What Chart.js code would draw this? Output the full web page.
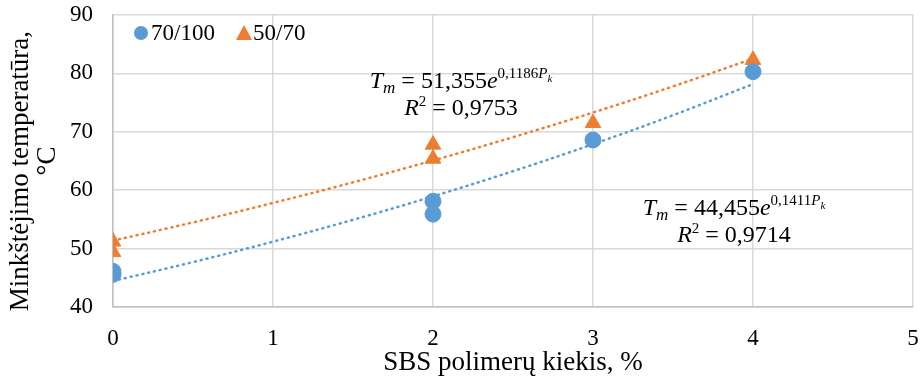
<!DOCTYPE html>
<html>
<head>
<meta charset="utf-8">
<script src="https://cdn.jsdelivr.net/npm/chart.js@4"></script>
<style>
  html, body { margin: 0; padding: 0; background: #fff; }
  #wrap { width: 923px; height: 380px; }
</style>
</head>
<body>
<div id="wrap"><canvas id="chart" width="923" height="380"></canvas></div>
<script>
// measured points
var x70_100 = [0, 0, 2, 2, 3, 4];
var y70_100 = [46.1, 45.6, 58.1, 55.9, 68.6, 80.3];
var x50_70 = [0, 0, 2, 2, 3, 4];
var y50_70 = [51.2, 49.4, 67.8, 65.4, 71.5, 82.3];

// trendlines
var trendX = [0, 0.5, 1, 1.5, 2, 2.5, 3, 3.5, 4];
var trendBlue = [44.46, 47.69, 51.19, 54.93, 58.95, 63.26, 67.88, 72.84, 78.17];
var trendOrange = [51.36, 54.49, 57.82, 61.35, 65.10, 69.08, 73.30, 77.78, 82.53];

var xTicks = [0, 1, 2, 3, 4, 5];
var yTicks = [40, 50, 60, 70, 80, 90];

var BLUE = '#5B9BD5';
var ORANGE = '#ED7D31';
var SERIF = '"Liberation Serif", "DejaVu Serif", serif';

function pts(xs, ys) {
    return xs.map(function (x, i) { return { x: x, y: ys[i] }; });
}

// legend and equations drawn inside the plot
var extras = {
    id: 'extras',
    afterDraw: function (chart) {
        var ctx = chart.ctx;
        var a = chart.chartArea;
        ctx.save();
        // legend
        var lx = a.left + 28, ly = a.top + 18;
        ctx.fillStyle = BLUE;
        ctx.beginPath();
        ctx.arc(lx, ly, 7, 0, Math.PI * 2);
        ctx.fill();
        ctx.fillStyle = '#000';
        ctx.font = '23px ' + SERIF;
        ctx.textBaseline = 'middle';
        ctx.textAlign = 'left';
        ctx.fillText('70/100', lx + 10, ly + 1);
        var tx = lx + 103;
        ctx.fillStyle = ORANGE;
        ctx.beginPath();
        ctx.moveTo(tx, ly - 8);
        ctx.lineTo(tx + 8, ly + 7);
        ctx.lineTo(tx - 8, ly + 7);
        ctx.closePath();
        ctx.fill();
        ctx.fillStyle = '#000';
        ctx.fillText('50/70', tx + 9, ly + 1);

        drawEq(ctx, 461, 88, '51,355', '0,1186', '0,9753');
        drawEq(ctx, 734, 215, '44,455', '0,1411', '0,9714');
        ctx.restore();
    }
};

function drawEq(ctx, cx, cy, a, b, r2) {
    var parts = [
        { t: 'T', f: 'italic 24px ' + SERIF, dy: 0 },
        { t: 'm', f: 'italic 17px ' + SERIF, dy: 5 },
        { t: ' = ' + a, f: '24px ' + SERIF, dy: 0 },
        { t: 'e', f: 'italic 24px ' + SERIF, dy: 0 },
        { t: b, f: '15px ' + SERIF, dy: -10 },
        { t: 'P', f: 'italic 15px ' + SERIF, dy: -10 },
        { t: 'k', f: 'italic 11px ' + SERIF, dy: -6 }
    ];
    var w = 0;
    parts.forEach(function (p) { ctx.font = p.f; p.w = ctx.measureText(p.t).width; w += p.w; });
    var x = cx - w / 2;
    ctx.fillStyle = '#000';
    ctx.textAlign = 'left';
    ctx.textBaseline = 'alphabetic';
    parts.forEach(function (p) {
        ctx.font = p.f;
        ctx.fillText(p.t, x, cy + p.dy);
        x += p.w;
    });
    var p2 = [
        { t: 'R', f: 'italic 24px ' + SERIF, dy: 0 },
        { t: '2', f: '15px ' + SERIF, dy: -9 },
        { t: ' = ' + r2, f: '24px ' + SERIF, dy: 0 }
    ];
    w = 0;
    p2.forEach(function (p) { ctx.font = p.f; p.w = ctx.measureText(p.t).width; w += p.w; });
    x = cx - w / 2;
    p2.forEach(function (p) {
        ctx.font = p.f;
        ctx.fillText(p.t, x, cy + 27 + p.dy);
        x += p.w;
    });
}

new Chart(document.getElementById('chart'), {
    type: 'scatter',
    data: {
        datasets: [
            {
                label: '70/100 trend',
                data: pts(trendX, trendBlue),
                showLine: true,
                borderColor: BLUE,
                borderWidth: 2.5,
                borderDash: [1, 5],
                borderCapStyle: 'round',
                tension: 0.4,
                pointRadius: 0
            },
            {
                label: '50/70 trend',
                data: pts(trendX, trendOrange),
                showLine: true,
                borderColor: ORANGE,
                borderWidth: 2.5,
                borderDash: [1, 5],
                borderCapStyle: 'round',
                tension: 0.4,
                pointRadius: 0
            },
            {
                label: '70/100',
                data: pts(x70_100, y70_100),
                backgroundColor: BLUE,
                borderColor: BLUE,
                pointStyle: 'circle',
                pointRadius: 8
            },
            {
                label: '50/70',
                data: pts(x50_70, y50_70),
                backgroundColor: ORANGE,
                borderColor: ORANGE,
                pointStyle: 'triangle',
                pointRadius: 9
            }
        ]
    },
    options: {
        responsive: false,
        animation: false,
        layout: { padding: { top: 0, right: 8, left: 0, bottom: 0 } },
        plugins: {
            legend: { display: false },
            tooltip: { enabled: false }
        },
        scales: {
            x: {
                type: 'linear',
                min: 0, max: 5,
                afterBuildTicks: function (s) { s.ticks = xTicks.map(function (v) { return { value: v }; }); },
                grid: { color: '#d9d9d9', lineWidth: 1.5, drawTicks: false },
                border: { color: '#bfbfbf', width: 1.5 },
                ticks: { color: '#000', font: { family: SERIF, size: 23 }, padding: 18 },
                title: { display: true, text: 'SBS polimerų kiekis, %', color: '#000', font: { family: SERIF, size: 27 }, padding: { top: 0, bottom: 1 } },
                afterFit: function (s) {
                    s.height = 73;
                    s.paddingLeft = 0;
                    s.paddingRight = 0;
                }
            },
            y: {
                min: 40, max: 90,
                afterBuildTicks: function (s) { s.ticks = yTicks.map(function (v) { return { value: v }; }); },
                grid: { color: '#d9d9d9', lineWidth: 1.5, drawTicks: false },
                border: { color: '#bfbfbf', width: 1.5 },
                ticks: { color: '#000', font: { family: SERIF, size: 23 }, padding: 20 },
                title: { display: true, text: ['Minkštėjimo temperatūra,   ', '°C'], color: '#000', font: { family: SERIF, size: 27, lineHeight: 0.98 }, padding: { top: 8, bottom: 0 } },
                afterFit: function (s) {
                    s.width = 113;
                    s.paddingTop = 15;
                    s.paddingBottom = 0;
                }
            }
        }
    },
    plugins: [extras]
});
</script>
</body>
</html>
